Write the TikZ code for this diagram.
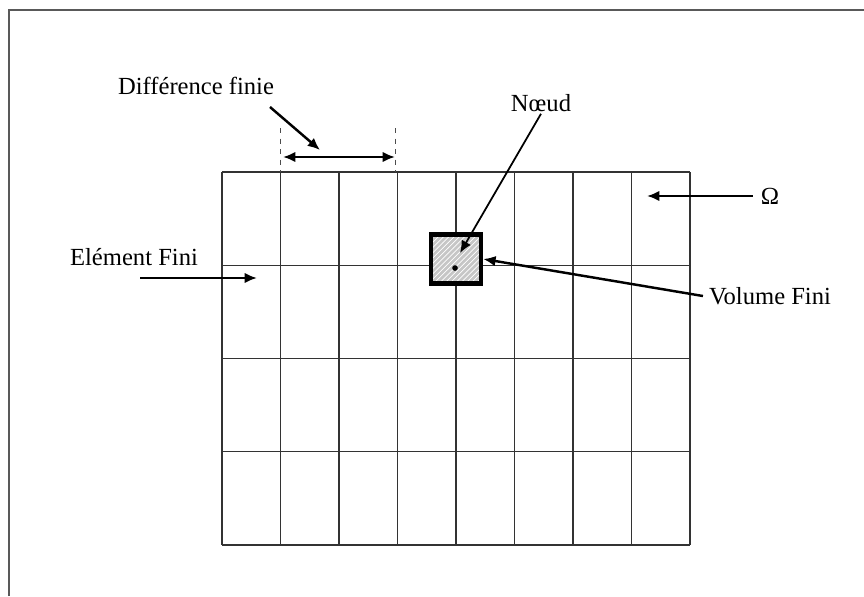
\documentclass[tikz,border=0pt]{standalone}
\usepackage{fontspec}
\setmainfont{Liberation Serif}
\usepackage{tikz}
\usetikzlibrary{patterns,arrows.meta}

\begin{document}
\begin{tikzpicture}[x=0.02cm,y=-0.02cm,
    lbl/.style={font=\fontsize{14}{16}\selectfont,inner sep=1pt},
    arr/.style={line width=1.4pt,-{Latex[length=7pt,width=6pt]}},
    gridline/.style={line width=0.8pt,black!80}]
    \useasboundingbox (0,0) rectangle (864,596);

    % frame
    \draw[line width=1.3pt,black!65] (9,596) -- (9,10) -- (864,10);

    % mesh 8 x 4
    \foreach \i in {0,...,8}
        \draw[gridline] (222+58.5*\i,172) -- (222+58.5*\i,545);
    \foreach \j in {0,...,4}
        \draw[gridline] (222,172+93.25*\j) -- (690,172+93.25*\j);

    % control volume
    \node[draw,line width=2.6pt,minimum width=1cm,minimum height=0.98cm,inner sep=0pt,
          preaction={fill=gray!45},pattern=north east lines,pattern color=white]
          (vol) at (456,259) {};
    \fill (455,268) circle (1.6pt);
    \coordinate (noeudpt) at (460,253);

    % labels
    \node[lbl] (diff) at (196,86) {Différence finie};
    \node[lbl] (noeud) at (541,103) {Nœud};
    \node[lbl] (omega) at (770,196) {Ω};
    \node[lbl] (elem) at (134,257) {Elément Fini};
    \node[lbl] (volfini) at (770,296) {Volume Fini};

    % arrows
    \coordinate (d1) at (270,107);
    \coordinate (d2) at (320,150);
    \draw[arr] (d1) -- (d2);
    \draw[black!70,dashed] (280,128) -- (280,172);
    \draw[black!70,dashed] (395,128) -- (395,172);
    \coordinate (h1) at (283,157);
    \coordinate (h2) at (395,157);
    \draw[line width=1.4pt,{Latex[length=7pt,width=6pt]}-{Latex[length=7pt,width=6pt]}] (h1) -- (h2);

    \draw[line width=1pt,-{Latex[length=7pt,width=6pt]}] (noeud.south) -- (noeudpt);
    \coordinate (om) at (647,196);
    \draw[arr] (omega.west) ++(-6,0) -- (om);
    \coordinate (e1) at (140,278);
    \coordinate (e2) at (257,278);
    \draw[arr] (e1) -- (e2);
    \draw[arr] (volfini.west) ++(-4,0) -- (vol.east);
\end{tikzpicture}
\end{document}
